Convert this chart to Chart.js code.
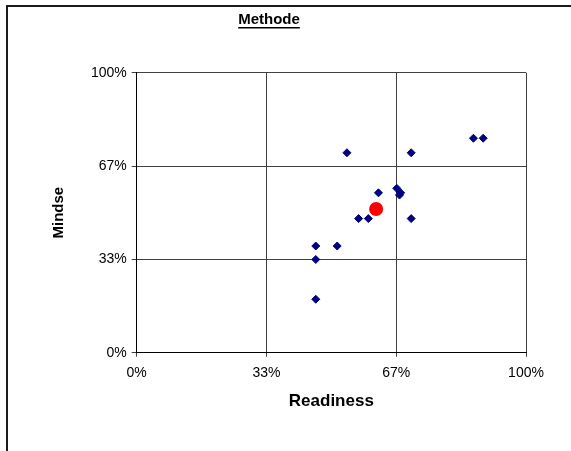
<!DOCTYPE html>
<html>
<head>
<meta charset="utf-8">
<script src="https://cdn.jsdelivr.net/npm/chart.js@4/dist/chart.umd.min.js"></script>
<style>
  html, body { margin: 0; padding: 0; background: #fff; }
  #wrap { position: relative; width: 571px; height: 451px; }
</style>
</head>
<body>
<div id="wrap"><canvas id="c" width="571" height="451"></canvas></div>
<script>
const chartTitle = 'Methode';
const xTitle = 'Readiness';
const yTitle = 'Mindse';
const tickValues = [0, 0.3333, 0.6667, 1];
const tickLabels = ['0%', '33%', '67%', '100%'];
const readiness = [0.540, 0.705, 0.865, 0.890, 0.621, 0.668, 0.678, 0.675, 0.570, 0.595, 0.705, 0.460, 0.515, 0.460, 0.460];
const mindset   = [0.714, 0.714, 0.766, 0.766, 0.571, 0.587, 0.571, 0.563, 0.479, 0.479, 0.479, 0.381, 0.381, 0.333, 0.191];
const avgReadiness = [0.615];
const avgMindset = [0.513];

const FONT = '"Liberation Sans", Arial, sans-serif';

function toPoints(xs, ys) { return xs.map((x, i) => ({ x: x, y: ys[i] })); }

function setTicks(scale) {
  scale.ticks = tickValues.map(v => ({ value: v }));
}
function tickLabel(value) {
  const i = tickValues.indexOf(value);
  return i >= 0 ? tickLabels[i] : '';
}

const framePlugin = {
  id: 'frame',
  afterDraw(chart) {
    const ctx = chart.ctx;
    ctx.save();
    ctx.fillStyle = '#1a1a1a';
    ctx.fillRect(6, 5, 565, 2);
    ctx.fillRect(6, 5, 2, 446);
    ctx.font = 'bold 15px ' + FONT;
    ctx.textAlign = 'center';
    ctx.textBaseline = 'alphabetic';
    ctx.fillStyle = '#000';
    ctx.fillText(chartTitle, 269, 24);
    const w = ctx.measureText(chartTitle).width;
    ctx.fillRect(269 - w / 2, 27, w, 1.5);
    ctx.restore();
  }
};

new Chart(document.getElementById('c'), {
  type: 'scatter',
  data: {
    datasets: [
      {
        label: 'Average',
        data: toPoints(avgReadiness, avgMindset),
        pointStyle: 'circle',
        pointRadius: 7,
        pointHoverRadius: 7,
        backgroundColor: '#ff0000',
        borderColor: '#ff0000',
        borderWidth: 0
      },
      {
        label: 'Points',
        data: toPoints(readiness, mindset),
        pointStyle: 'rectRot',
        pointRadius: 4,
        pointHoverRadius: 4,
        backgroundColor: '#000080',
        borderColor: '#000080',
        borderWidth: 1
      }
    ]
  },
  options: {
    responsive: false,
    animation: false,
    events: [],
    layout: { padding: { left: 7, top: 72.7, right: 45, bottom: 39.7 } },
    plugins: {
      legend: { display: false },
      title: { display: false },
      tooltip: { enabled: false }
    },
    scales: {
      x: {
        type: 'linear',
        min: 0, max: 1,
        afterBuildTicks: setTicks,
        afterFit(scale) { scale.height = 58.6; },
        grid: { color: '#404040', lineWidth: 1, tickLength: 4, drawTicks: true },
        border: { color: '#000', width: 1 },
        ticks: {
          padding: 8,
          color: '#000',
          font: { family: FONT, size: 14 },
          maxRotation: 0,
          callback: tickLabel
        },
        title: {
          display: true,
          text: xTitle,
          color: '#000',
          font: { family: FONT, size: 17, weight: 'bold' },
          padding: { top: 0, bottom: 0 }
        }
      },
      y: {
        type: 'linear',
        min: 0, max: 1,
        afterBuildTicks: setTicks,
        afterFit(scale) { scale.width = 129.7; },
        grid: { color: '#404040', lineWidth: 1, tickLength: 5, drawTicks: true },
        border: { color: '#000', width: 1 },
        ticks: {
          padding: 5,
          color: '#000',
          font: { family: FONT, size: 14 },
          callback: tickLabel
        },
        title: {
          display: true,
          text: yTitle,
          color: '#000',
          font: { family: FONT, size: 15, weight: 'bold' },
          padding: { top: 43, bottom: 0 }
        }
      }
    }
  },
  plugins: [framePlugin]
});
</script>
</body>
</html>
